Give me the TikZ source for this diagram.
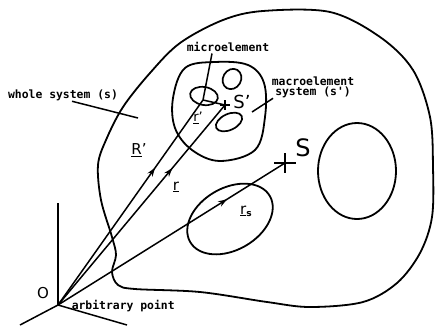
\documentclass[tikz,border=0pt]{standalone}
\usepackage{fontspec}
\setsansfont{DejaVu Sans}
\setmonofont{DejaVu Sans Mono}
\usetikzlibrary{arrows.meta,decorations.markings}

\begin{document}
\begin{tikzpicture}[x=1pt,y=-1pt,line width=1.5pt,line join=round,
  lbl/.style={font=\ttfamily\bfseries\fontsize{11.4}{10}\selectfont,inner sep=0pt},
  sym/.style={font=\sffamily\fontsize{15}{15}\selectfont,inner sep=0pt},
  midarrow/.style={postaction={decorate},decoration={markings,
    mark=at position #1 with {\arrow{Stealth[length=9pt,width=6pt]}}}}]
  \useasboundingbox (0,0) rectangle (436,325);
  % whole system (s)
  \draw[line width=1.8pt] plot[smooth cycle,tension=0.55] coordinates {
    (98,165) (101,200) (112,237) (116,255) (112,272) (118,285) (135,289)
    (200,292) (267,302) (310,307) (363,302) (397,283) (420,253) (432,217)
    (433,167) (430,117) (413,70) (380,37) (330,12) (263,11) (223,20)
    (180,43) (150,73) (123,107) (106,140)};
  % macroelement system (s')
  \draw[line width=1.8pt] plot[smooth cycle,tension=0.6] coordinates {
    (185,68) (215,62) (248,65) (264,83) (265,117) (255,150) (220,161)
    (192,150) (175,128) (173,98)};
  \draw[line width=1.7pt] (204,96) circle [x radius=14,y radius=9,rotate=-10];
  \draw[line width=1.7pt] (232,79) circle [x radius=10.5,y radius=9,rotate=60];
  \draw[line width=1.7pt] (229,122) circle [x radius=14,y radius=8,rotate=25];
  \draw[line width=1.8pt] (230,219) circle [x radius=46,y radius=31,rotate=30];
  \draw[line width=1.8pt] (357,171) circle [x radius=39,y radius=48];

  % points
  \coordinate (O) at (58,305);
  \coordinate (micro) at (203,100);
  \coordinate (Sp) at (225,105);
  \coordinate (S) at (285,163);
  \coordinate (ztop) at (58,203);
  \coordinate (xend) at (20,325);
  \coordinate (yend) at (127,325);
  \coordinate (wholept) at (138,118);
  \coordinate (macropt) at (252,112);

  % axes
  \draw (O) -- (ztop);
  \draw (O) -- (xend);
  \draw (O) -- (yend);

  % vectors
  \draw[midarrow=0.67] (O) -- (micro);
  \draw[midarrow=0.685] (O) -- (Sp);
  \draw[midarrow=0.745] (O) -- (S);
  \draw (Sp) -- (micro);
  \draw (S) ++(-11,0) -- ++(22,0) (S) ++(0,-10) -- ++(0,20);
  \draw (Sp) ++(-5,0) -- ++(10,0) (Sp) ++(0,-5) -- ++(0,10);

  % labels
  \node[lbl] (whole) at (63,95) {whole system (s)};
  \node[lbl] (microlbl) at (228,47) {microelement};
  \node[lbl,align=center] (macro) at (313,87) {macroelement\\system (s')};
  \node[lbl,anchor=west] (arb) at (71,306) {arbitrary point};
  \draw ([xshift=9pt]whole.south) -- (wholept);
  \draw ([xshift=-16pt,yshift=-1pt]microlbl.south) -- (micro);
  \draw ([xshift=2pt]macro.south west) -- (macropt);

  \node[sym] (olbl) at (43,293) {O};
  \node[sym] (Rlbl) at (139,150) {\underline{R}'};
  \node[sym] (rlbl) at (176,187) {\underline{r}};
  \node[sym,font=\sffamily\fontsize{13}{13}\selectfont] (rplbl) at (198,118) {\underline{r}'};
  \node[sym] (rslbl) at (246,211) {\underline{r}\raisebox{-2pt}{\fontsize{9}{9}\selectfont\bfseries s}};
  \node[sym,font=\sffamily\fontsize{24}{24}\selectfont] (Slbl) at (303,148) {S};
  \node[sym,font=\sffamily\fontsize{18}{18}\selectfont] (Splbl) at (242,102) {S'};
\end{tikzpicture}
\end{document}
